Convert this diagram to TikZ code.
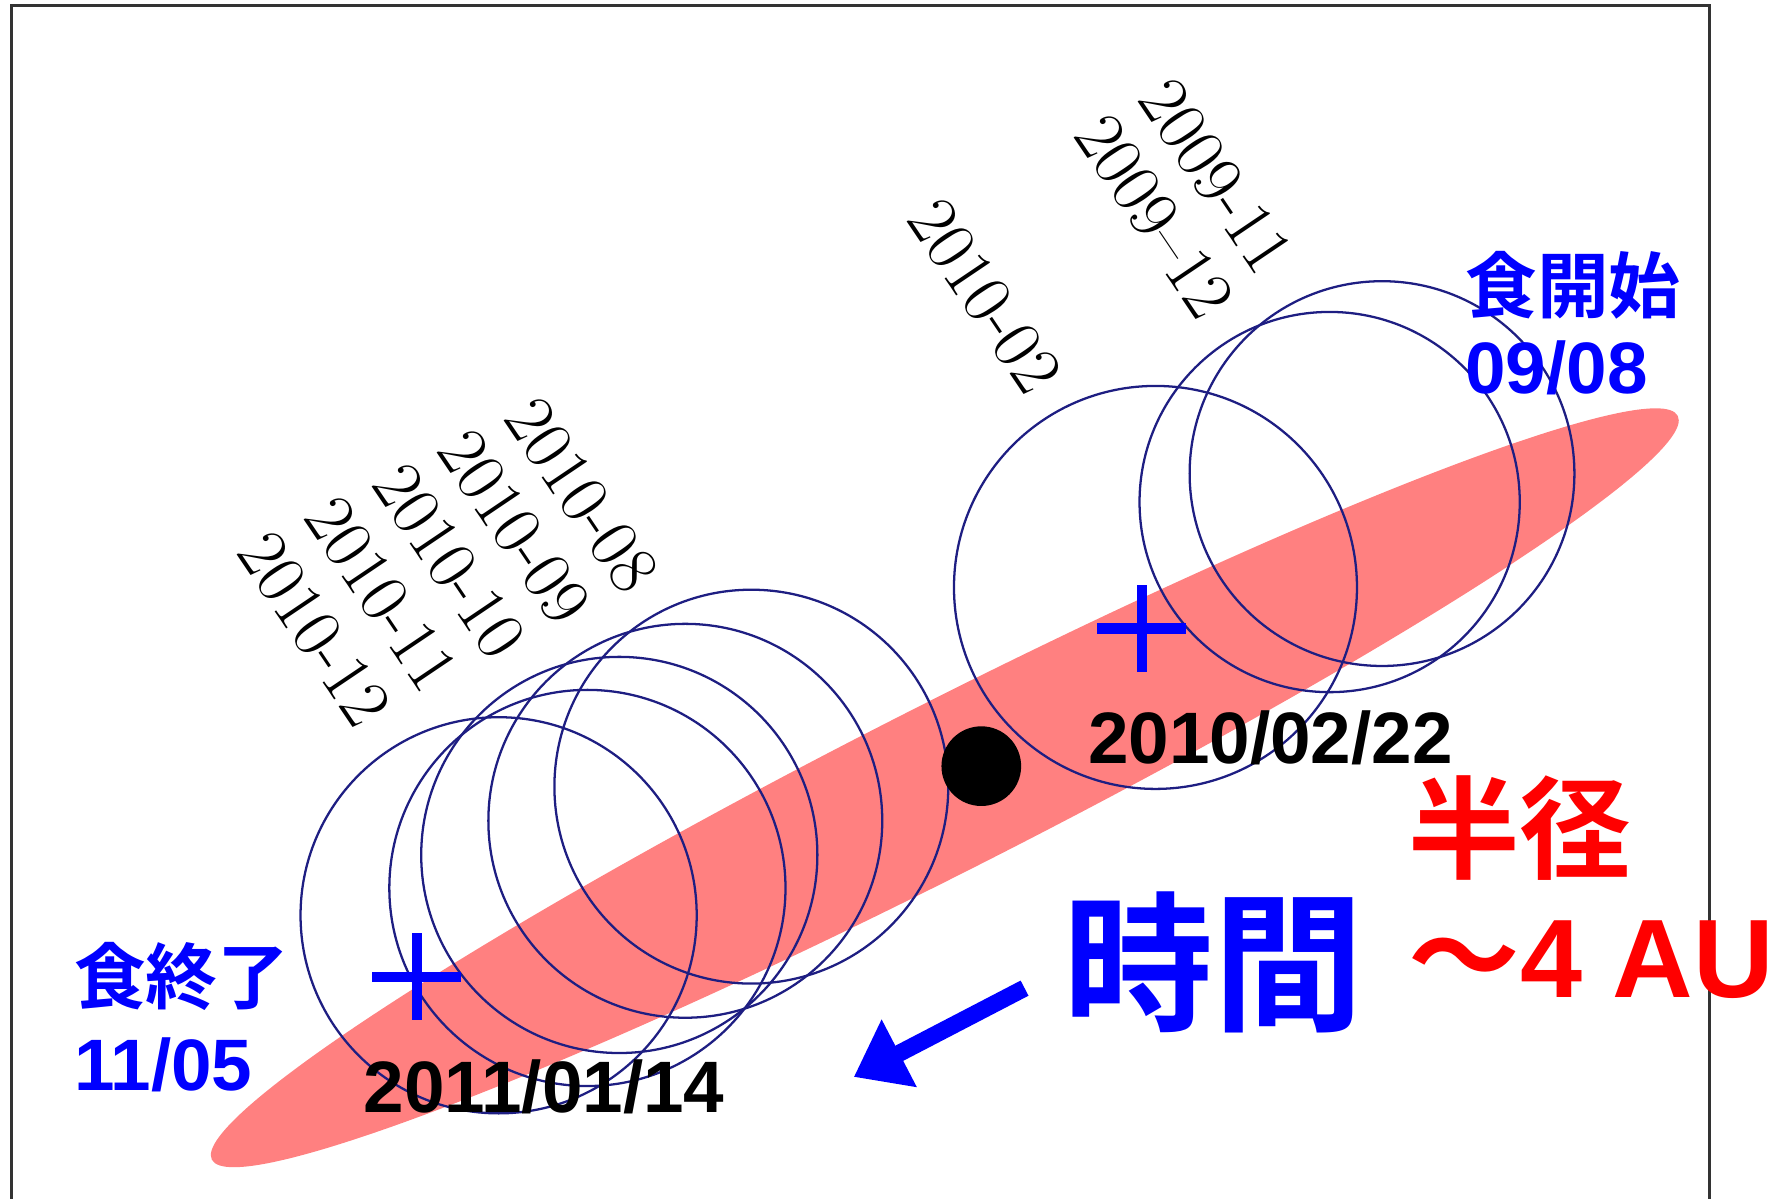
\documentclass[tikz,border=0pt]{standalone}
\usepackage{fontspec}
\setmainfont{Liberation Sans}
\newfontfamily\jpfont{Noto Sans CJK JP}[BoldFont=* Bold]
\newfontfamily\lmfont{Latin Modern Roman}
\usetikzlibrary{arrows.meta}
\definecolor{orbitblue}{RGB}{30,30,130}
\definecolor{dustred}{RGB}{255,128,128}

\begin{document}
\begin{tikzpicture}[x=1pt, y=-1pt,
  frame/.style={draw=black!80, line width=2.5pt},
  orbit/.style={draw=orbitblue, line width=2pt},
  crossmark/.style={draw=blue, line width=9pt},
  timearrow/.style={draw=blue, line width=15pt, -{Triangle[length=45pt, width=64pt]}},
  monthtag/.style={font=\lmfont\fontsize{62}{62}\selectfont, rotate=-56, inner sep=0pt},
  datetag/.style={font=\bfseries\fontsize{64}{64}\selectfont, inner sep=0pt},
  jptag/.style={font=\jpfont\bfseries\fontsize{63}{63}\selectfont, text=blue, inner sep=0pt, anchor=west},
  daytag/.style={font=\bfseries\fontsize{64}{64}\selectfont, text=blue, inner sep=0pt, anchor=west}]
\useasboundingbox (0,0) rectangle (1568,1053);
\draw[frame] (10,1070) -- (10,5) -- (1502,5) -- (1502,1070);

% dust disk
\coordinate (disk) at (830,692);
\fill[dustred, rotate around={26.9:(disk)}] (disk) ellipse [x radius=722pt, y radius=74pt];

% companion positions
\foreach \name/\x/\y/\r in {L1/438/804/174, L2/516/780/174, L3/544/751/174, L4/602/721/173, L5/660/691/173,
                            R1/1015/516/177, R2/1168/441/167, R3/1214/416/169}
{
  \coordinate (\name) at (\x,\y);
  \draw[orbit] (\name) circle [radius=\r pt];
}

% eclipse centres
\coordinate (midA) at (1003,552);
\coordinate (midB) at (366,858);
\draw[crossmark] (midA) ++(-39,0) -- ++(78,0) (midA) ++(0,-38) -- ++(0,76);
\draw[crossmark] (midB) ++(-39,0) -- ++(78,0) (midB) ++(0,-38) -- ++(0,76);

% star
\node[circle, fill=black, minimum size=70pt, inner sep=0pt] (star) at (862,673) {};

% month labels
\foreach \name/\x/\y/\txt in {t0911/1068/155/2009-11, t0912/1014/190/2009–12, t1002/865/260/2010-02,
                              t1008/511/435/2010-08, t1009/452/463/2010-09, t1010/395/493/2010-10,
                              t1011/335/522/2010-11, t1012/276/553/2010-12}
  \node[monthtag] (\name) at (\x,\y) {\txt};

% dates
\node[datetag] (dateA) at (1116,648) {2010/02/22};
\node[datetag] (dateB) at (478,955) {2011/01/14};
\node[jptag] (startjp) at (1287,251) {食開始};
\node[daytag] (startday) at (1287,323) {09/08};
\node[jptag] (endjp) at (65,858) {食終了};
\node[daytag] (endday) at (65,935) {11/05};

% time arrow
\coordinate (tfrom) at (900,868);
\coordinate (tto) at (750,946);
\draw[timearrow] (tfrom) -- (tto);
\node[font=\jpfont\bfseries\fontsize{132}{132}\selectfont, text=blue, inner sep=0pt] (timejp) at (1066,845) {時間};

% radius
\node[font=\jpfont\bfseries\fontsize{98}{98}\selectfont, text=red, inner sep=0pt] (radjp) at (1335,727) {半径};
\node[font=\bfseries\fontsize{98}{98}\selectfont, text=red, inner sep=0pt, anchor=west] (radval) at (1237,843) {{\jpfont ～}4 AU};
\end{tikzpicture}
\end{document}
